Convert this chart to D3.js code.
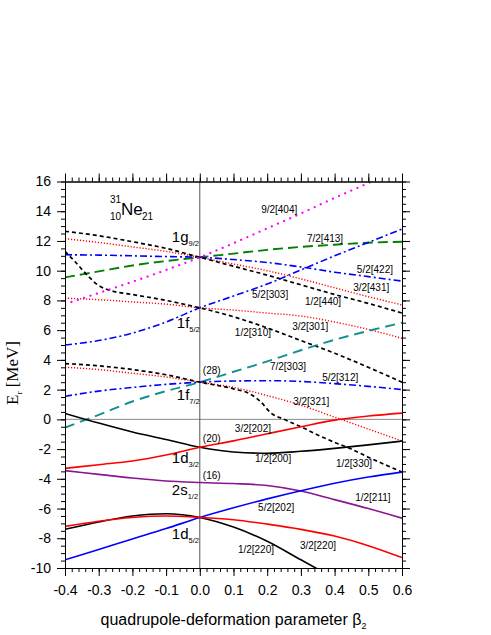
<!DOCTYPE html>
<html>
<head>
<meta charset="utf-8">
<script src="https://cdn.jsdelivr.net/npm/d3@7"></script>
<style>
  body { margin: 0; background: #fff; }
  svg { display: block; }
  text { font-family: "Liberation Sans", Arial, sans-serif; fill: #000; }
</style>
</head>
<body>
<svg id="chart" width="491" height="635"></svg>
<script>
// Nilsson diagram, 31Ne

// common beta grid for most orbitals
var betaGrid = [-0.4, -0.3, -0.2, -0.1, 0, 0.1, 0.2, 0.3, 0.4, 0.5, 0.6];

// 1g9/2 family
var g404 = [7.75, 8.5, 9.25, 10.05, 10.9, 11.85, 12.85, 13.85, 14.9, 15.9, 17.0];
var g413 = [9.55, 9.95, 10.35, 10.65, 10.9, 11.15, 11.4, 11.6, 11.75, 11.88, 11.95];
var g422 = [11.07, 11.05, 11.0, 10.95, 10.9, 10.75, 10.55, 10.25, 9.9, 9.6, 9.3];
var g431 = [12.15, 11.9, 11.6, 11.3, 10.9, 10.45, 10.0, 9.45, 8.85, 8.25, 7.7];
var g440 = [12.65, 12.35, 11.95, 11.5, 10.9, 10.3, 9.7, 9.05, 8.4, 7.8, 7.15];

// 1f5/2 family
var f303a = [5.0, 5.3, 5.8, 6.55, 7.5, 8.3, 9.1, 10.05, 11.0, 11.9, 12.8];
var f301 = [8.15, 8.05, 7.9, 7.75, 7.5, 7.35, 7.15, 6.95, 6.55, 6.05, 5.45];
var f310Beta = [-0.4, -0.37, -0.33, -0.3, -0.27, -0.2, -0.1, 0, 0.1, 0.2, 0.3, 0.4, 0.5, 0.6];
var f310 = [11.3, 10.6, 9.6, 9.0, 8.7, 8.4, 8.0, 7.5, 6.9, 6.15, 5.3, 4.45, 3.5, 2.5];

// 1f7/2 family
var f303b = [-0.55, 0.3, 1.2, 1.9, 2.5, 3.2, 3.9, 4.65, 5.35, 5.95, 6.5];
var f312 = [1.55, 1.9, 2.15, 2.35, 2.5, 2.58, 2.6, 2.55, 2.4, 2.22, 2.0];
var f321 = [3.5, 3.35, 3.1, 2.85, 2.5, 2.15, 1.6, 0.95, 0.15, -0.65, -1.45];
var f330Beta = [-0.4, -0.3, -0.2, -0.1, 0, 0.1, 0.15, 0.18, 0.21, 0.25, 0.3, 0.35, 0.4, 0.45, 0.5, 0.55, 0.6];
var f330 = [3.75, 3.6, 3.35, 3.0, 2.5, 2.05, 1.7, 1.2, 0.45, 0.0, -0.5, -1.05, -1.55, -2.0, -2.55, -3.05, -3.55];

// 1d3/2, 2s1/2, 1d5/2
var d202a = [-3.3, -3.05, -2.8, -2.4, -1.88, -1.45, -0.97, -0.5, -0.05, 0.22, 0.42];
var d200 = [0.4, -0.25, -0.85, -1.35, -1.88, -2.2, -2.28, -2.15, -1.95, -1.72, -1.46];
var s211 = [-3.45, -3.7, -3.95, -4.15, -4.25, -4.32, -4.45, -4.82, -5.4, -6.0, -6.65];
var d202b = [-9.45, -8.75, -8.05, -7.35, -6.6, -5.95, -5.35, -4.8, -4.3, -3.88, -3.55];
var d220a = [-7.2, -6.85, -6.6, -6.5, -6.6, -6.75, -7.05, -7.4, -7.85, -8.5, -9.3];
var d220Beta = [-0.4, -0.3, -0.2, -0.1, 0, 0.1, 0.2, 0.3, 0.4];
var d220b = [-7.4, -6.9, -6.5, -6.35, -6.6, -7.25, -8.2, -9.45, -10.7];

// spherical levels at beta = 0
var sphNames = ["1g", "1f", "1f", "1d", "2s", "1d"];
var sphSubs = ["9/2", "5/2", "7/2", "3/2", "1/2", "5/2"];
var sphE = [10.9, 7.5, 2.5, -1.88, -4.25, -6.6];

// magic numbers
var magicNums = ["(28)", "(20)", "(16)"];
var magicE = [2.5, -1.88, -4.25];

// orbital tags and where they sit (beta, E)
var tagText = ["9/2[404]", "7/2[413]", "5/2[422]", "3/2[431]", "1/2[440]", "5/2[303]", "1/2[310]",
  "3/2[301]", "7/2[303]", "5/2[312]", "3/2[321]", "3/2[202]", "1/2[200]", "1/2[330]",
  "1/2[211]", "5/2[202]", "3/2[220]", "1/2[220]"];
var tagBeta = [0.182, 0.318, 0.466, 0.455, 0.312, 0.155, 0.104, 0.274, 0.208, 0.363, 0.277,
  0.104, 0.164, 0.404, 0.461, 0.173, 0.297, 0.113];
var tagE = [13.88, 11.93, 9.85, 8.63, 7.69, 8.16, 5.61, 6.01, 3.32, 2.58, 0.97,
  -0.85, -2.87, -3.21, -5.49, -6.17, -8.72, -8.99];

var xTicks = [-0.4, -0.3, -0.2, -0.1, 0, 0.1, 0.2, 0.3, 0.4, 0.5, 0.6];
var yTicks = [-10, -8, -6, -4, -2, 0, 2, 4, 6, 8, 10, 12, 14, 16];

// ---------------------------------------------------------------

var svg = d3.select('#chart');
var pL = 65, pR = 402, pT = 181.5, pB = 568;

var x = d3.scaleLinear().domain([-0.4, 0.6]).range([pL, pR]);
var y = d3.scaleLinear().domain([-10, 16]).range([pB, pT]);

svg.append('defs').append('clipPath').attr('id', 'plotclip')
  .append('rect')
  .attr('x', pL).attr('y', pT)
  .attr('width', pR - pL).attr('height', pB - pT);

// zero lines
svg.append('line')
  .attr('x1', pL).attr('x2', pR)
  .attr('y1', y(0)).attr('y2', y(0))
  .attr('stroke', '#888').attr('stroke-width', 1);
svg.append('line')
  .attr('x1', x(0)).attr('x2', x(0))
  .attr('y1', pT).attr('y2', pB)
  .attr('stroke', '#555').attr('stroke-width', 1);

// styles
var styles = {
  magenta: { c: '#ff00ff', w: 2.2, d: '0.1,6.6', cap: 'round' },
  green: { c: '#008000', w: 1.9, d: '10,5' },
  blueDD: { c: '#0000ff', w: 1.6, d: '7,3,2,3' },
  redDot: { c: '#ff0000', w: 1.4, d: '1.2,1.8' },
  blackDash: { c: '#000', w: 1.7, d: '4,3' },
  teal: { c: '#12908e', w: 1.9, d: '10,6' },
  black: { c: '#000', w: 1.6 },
  red: { c: '#ff0000', w: 1.6 },
  blue: { c: '#0000ff', w: 1.6 },
  purple: { c: '#8a1592', w: 1.6 }
};

function pairs(b, e) {
  return b.map(function (v, i) { return [v, e[i]]; });
}

var curves = [
  [pairs(betaGrid, g413), 'green'],
  [pairs(betaGrid, g422), 'blueDD'],
  [pairs(betaGrid, g431), 'redDot'],
  [pairs(betaGrid, g440), 'blackDash'],
  [pairs(betaGrid, f303a), 'blueDD'],
  [pairs(betaGrid, f301), 'redDot'],
  [pairs(f310Beta, f310), 'blackDash'],
  [pairs(betaGrid, f303b), 'teal'],
  [pairs(betaGrid, f312), 'blueDD'],
  [pairs(betaGrid, f321), 'redDot'],
  [pairs(f330Beta, f330), 'blackDash'],
  [pairs(betaGrid, d200), 'black'],
  [pairs(betaGrid, d202a), 'red'],
  [pairs(betaGrid, s211), 'purple'],
  [pairs(betaGrid, d202b), 'blue'],
  [pairs(d220Beta, d220b), 'black'],
  [pairs(betaGrid, d220a), 'red'],
  [pairs(betaGrid, g404), 'magenta']
];

var line = d3.line()
  .x(function (d) { return x(d[0]); })
  .y(function (d) { return y(d[1]); })
  .curve(d3.curveMonotoneX);

var plot = svg.append('g').attr('clip-path', 'url(#plotclip)');
curves.forEach(function (c) {
  var s = styles[c[1]];
  plot.append('path')
    .attr('d', line(c[0]))
    .attr('fill', 'none')
    .attr('stroke', s.c)
    .attr('stroke-width', s.w)
    .attr('stroke-dasharray', s.d || null)
    .attr('stroke-linecap', s.cap || 'butt');
});

// axes: major + minor ticks on all four sides, outward
function styleAxis(g) {
  g.selectAll('path').attr('stroke', '#000').attr('stroke-width', 1);
  g.selectAll('line').attr('stroke', '#000').attr('stroke-width', 1);
  g.selectAll('text').attr('font-size', '14px').attr('fill', '#000')
    .attr('font-family', '"Liberation Sans", Arial, sans-serif');
}
var xMinor = d3.range(-0.4, 0.6001, 0.02);
var yMinor = d3.range(-10, 16.001, 0.5);

svg.append('g').attr('transform', 'translate(0,' + pB + ')')
  .call(d3.axisBottom(x).tickValues(xMinor).tickSize(4).tickFormat('').tickSizeOuter(0)).call(styleAxis);
svg.append('g').attr('transform', 'translate(0,' + pB + ')')
  .call(d3.axisBottom(x).tickValues(xTicks).tickSize(8).tickPadding(9).tickSizeOuter(0)
    .tickFormat(function (d) { return d.toFixed(1); })).call(styleAxis);
svg.append('g').attr('transform', 'translate(0,' + pT + ')')
  .call(d3.axisTop(x).tickValues(xMinor).tickSize(4).tickFormat('').tickSizeOuter(0)).call(styleAxis);
svg.append('g').attr('transform', 'translate(0,' + pT + ')')
  .call(d3.axisTop(x).tickValues(xTicks).tickSize(8).tickFormat('').tickSizeOuter(0)).call(styleAxis);

svg.append('g').attr('transform', 'translate(' + pL + ',0)')
  .call(d3.axisLeft(y).tickValues(yMinor).tickSize(4).tickFormat('').tickSizeOuter(0)).call(styleAxis);
svg.append('g').attr('transform', 'translate(' + pL + ',0)')
  .call(d3.axisLeft(y).tickValues(yTicks).tickSize(8).tickPadding(6).tickSizeOuter(0)
    .tickFormat(function (d) { return String(d); })).call(styleAxis);
svg.append('g').attr('transform', 'translate(' + pR + ',0)')
  .call(d3.axisRight(y).tickValues(yMinor).tickSize(4).tickFormat('').tickSizeOuter(0)).call(styleAxis);
svg.append('g').attr('transform', 'translate(' + pR + ',0)')
  .call(d3.axisRight(y).tickValues(yTicks).tickSize(8).tickFormat('').tickSizeOuter(0)).call(styleAxis);

// axis titles
var xt = svg.append('text')
  .attr('x', (pL + pR) / 2).attr('y', 625)
  .attr('text-anchor', 'middle').attr('font-size', '16px');
xt.append('tspan').text('quadrupole-deformation parameter β');
xt.append('tspan').attr('font-size', '9px').attr('dy', 4).text('2');

var yt = svg.append('text')
  .attr('transform', 'translate(18,373) rotate(-90)')
  .attr('text-anchor', 'middle')
  .attr('font-size', '17px')
  .style('font-family', '"Liberation Serif", "Times New Roman", serif');
yt.append('tspan').text('E');
yt.append('tspan').attr('font-size', '9px').attr('dy', 4).text('r');
yt.append('tspan').attr('dy', -4).text(' [MeV]');

// nucleus name
var nuc = svg.append('g');
nuc.append('text').attr('x', 110).attr('y', 203).attr('font-size', '10px').text('31');
nuc.append('text').attr('x', 110).attr('y', 220).attr('font-size', '10px').text('10');
nuc.append('text').attr('x', 121).attr('y', 215).attr('font-size', '17px').text('Ne');
nuc.append('text').attr('x', 142).attr('y', 220).attr('font-size', '10px').text('21');

// spherical labels
var sphDx = [-28, -23, -23, -28, -28, -28];
var sphDy = [-15, 20, 18, 16, 12.5, 21.5];
sphNames.forEach(function (n, i) {
  var t = svg.append('text')
    .attr('x', x(0) + sphDx[i]).attr('y', y(sphE[i]) + sphDy[i])
    .attr('font-size', '15px');
  t.append('tspan').text(n);
  t.append('tspan').attr('font-size', '7.5px').attr('dy', 4).text(sphSubs[i]);
});

// magic numbers
var magicDy = [-8, -5, -3.5];
magicNums.forEach(function (m, i) {
  svg.append('text')
    .attr('x', x(0) + 3).attr('y', y(magicE[i]) + magicDy[i])
    .attr('font-size', '10px').text(m);
});

// orbital tags
tagText.forEach(function (t, i) {
  svg.append('text')
    .attr('x', x(tagBeta[i])).attr('y', y(tagE[i]))
    .attr('font-size', '10px').text(t);
});
</script>
</body>
</html>
